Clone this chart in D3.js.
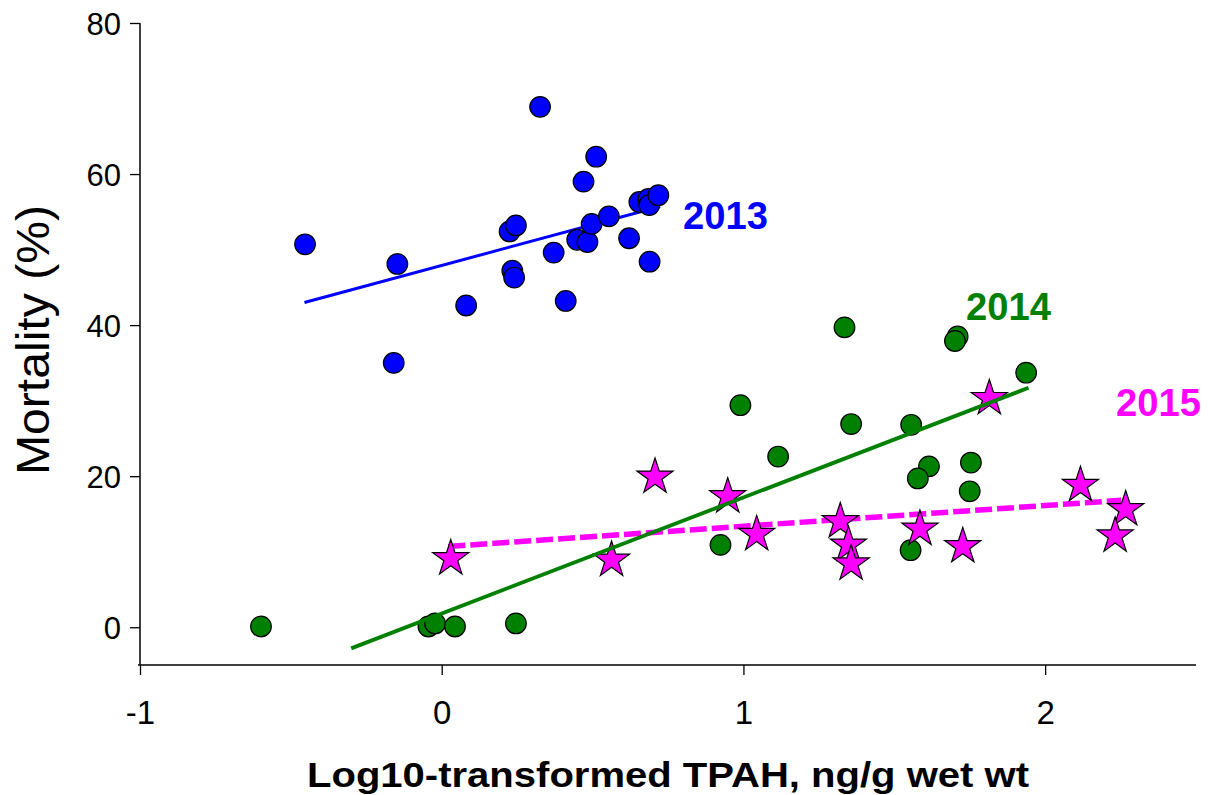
<!DOCTYPE html>
<html>
<head>
<meta charset="utf-8">
<script src="https://cdn.jsdelivr.net/npm/d3@7"></script>
<style>
  html, body { margin: 0; padding: 0; background: #fff; }
  svg { display: block; font-family: Arial, "Liberation Sans", sans-serif; }
</style>
</head>
<body>
<svg id="chart" width="1208" height="795"></svg>
<script>
// ---- data ----
const xTicks = [-1, 0, 1, 2];
const yTicks = [0, 20, 40, 60, 80];

const x2013 = [-0.453, -0.147, -0.159, 0.081, 0.326, 0.225, 0.246, 0.234, 0.240, 0.371, 0.411, 0.512, 0.470, 0.449, 0.483, 0.497, 0.554, 0.621, 0.689, 0.655, 0.685, 0.688, 0.718];
const y2013 = [50.7, 48.1, 35.0, 42.6, 68.9, 52.4, 53.2, 47.2, 46.3, 49.6, 43.2, 62.3, 59.0, 51.3, 51.0, 53.4, 54.4, 51.5, 48.4, 56.3, 56.7, 55.9, 57.2];

const x2014 = [-0.599, -0.044, -0.022, 0.044, 0.246, 1.335, 1.710, 1.701, 1.937, 0.990, 1.357, 1.556, 1.115, 1.615, 1.578, 1.754, 1.750, 0.924, 1.554];
const y2014 = [0.1, 0.1, 0.5, 0.1, 0.5, 39.7, 38.5, 37.9, 33.7, 29.4, 26.9, 26.8, 22.6, 21.3, 19.7, 21.8, 18.0, 10.9, 10.2];

const x2015 = [0.030, 0.563, 0.707, 0.948, 1.044, 1.321, 1.348, 1.357, 1.585, 1.727, 1.815, 2.117, 2.267, 2.232];
const y2015 = [9.1, 8.9, 19.9, 17.3, 12.3, 14.0, 10.9, 8.4, 13.0, 10.7, 30.3, 18.8, 15.6, 12.1];

// regression line end points [x, y]
const fit2013 = [[-0.455, 43.0], [0.724, 55.7]];
const fit2014 = [[-0.30, -2.8], [1.945, 31.7]];
const fit2015 = [[0.022, 10.7], [2.252, 16.8]];

// ---- layout ----
const svg = d3.select("#chart");
const x = d3.scaleLinear().domain([-1, 2.5]).range([140, 1196]);
const y = d3.scaleLinear().domain([-5, 80]).range([665, 23]);

const zip = (xs, ys) => xs.map((v, i) => [v, ys[i]]);
const line = d3.line().x(d => x(d[0])).y(d => y(d[1]));

// axes
const xAxis = svg.append("g").attr("transform", `translate(0,${y(-5)})`)
  .call(d3.axisBottom(x).tickValues(xTicks).tickFormat(d => String(d)).tickSize(10).tickSizeOuter(0));
const yAxis = svg.append("g").attr("transform", `translate(${x(-1)},0)`)
  .call(d3.axisLeft(y).tickValues(yTicks).tickFormat(d => String(d)).tickSize(10).tickSizeOuter(0));
[xAxis, yAxis].forEach(g => {
  g.select(".domain").attr("stroke", "#000").attr("stroke-width", 1.5);
  g.selectAll(".tick line").attr("stroke", "#000").attr("stroke-width", 1.3);
  g.selectAll(".tick text").attr("fill", "#000")
    .attr("font-family", "Arial, 'Liberation Sans', sans-serif");
});
xAxis.selectAll(".tick text").attr("font-size", 33).attr("dy", "1.4em")
  .attr("transform", function() { return null; });
yAxis.selectAll(".tick text").attr("font-size", 31).attr("x", -19).attr("dy", "0.36em");
xAxis.select(".domain").attr("d", `M${x(-1) - 2},0H${x(2.5)}`);
yAxis.select(".domain").attr("d", `M0,${y(80)}V${y(-5)}`);

// axis titles
svg.append("text")
  .attr("x", 668).attr("y", 787)
  .attr("text-anchor", "middle")
  .attr("font-size", 35).attr("font-weight", "bold")
  .attr("textLength", 722).attr("lengthAdjust", "spacingAndGlyphs")
  .text("Log10-transformed TPAH, ng/g wet wt");

svg.append("text")
  .attr("transform", `translate(49,340) rotate(-90)`)
  .attr("text-anchor", "middle")
  .attr("font-size", 46)
  .attr("textLength", 270).attr("lengthAdjust", "spacingAndGlyphs")
  .text("Mortality (%)");

// blue line + points
svg.append("path").datum(fit2013).attr("d", line)
  .attr("fill", "none").attr("stroke", "#0000ff").attr("stroke-width", 3);
svg.append("g").selectAll("circle").data(zip(x2013, y2013)).join("circle")
  .attr("cx", d => x(d[0])).attr("cy", d => y(d[1])).attr("r", 10.3)
  .attr("fill", "#0000ff").attr("stroke", "#000").attr("stroke-width", 1.2);

// green points
svg.append("g").selectAll("circle").data(zip(x2014, y2014)).join("circle")
  .attr("cx", d => x(d[0])).attr("cy", d => y(d[1])).attr("r", 10.3)
  .attr("fill", "#008000").attr("stroke", "#000").attr("stroke-width", 1.2);

// magenta dashed line
svg.append("path").datum(fit2015).attr("d", line)
  .attr("fill", "none").attr("stroke", "#ff00ff").attr("stroke-width", 5.5)
  .attr("stroke-dasharray", "17,5");

// stars
const star = d3.symbol().type(d3.symbolStar).size(405);
svg.append("g").selectAll("path").data(zip(x2015, y2015)).join("path")
  .attr("transform", d => `translate(${x(d[0])},${y(d[1])})`)
  .attr("d", star)
  .attr("fill", "#ff00ff").attr("stroke", "#000").attr("stroke-width", 1.2);

// green line on top
svg.append("path").datum(fit2014).attr("d", line)
  .attr("fill", "none").attr("stroke", "#008000").attr("stroke-width", 3.8);

// year labels
const labels = [
  { t: "2013", px: 683, py: 229, c: "#0000ff" },
  { t: "2014", px: 966, py: 320, c: "#008000" },
  { t: "2015", px: 1116, py: 416, c: "#ff00ff" }
];
svg.append("g").selectAll("text").data(labels).join("text")
  .attr("x", d => d.px).attr("y", d => d.py)
  .attr("fill", d => d.c).attr("font-size", 38).attr("font-weight", "bold")
  .attr("textLength", 85).attr("lengthAdjust", "spacingAndGlyphs")
  .text(d => d.t);
</script>
</body>
</html>
